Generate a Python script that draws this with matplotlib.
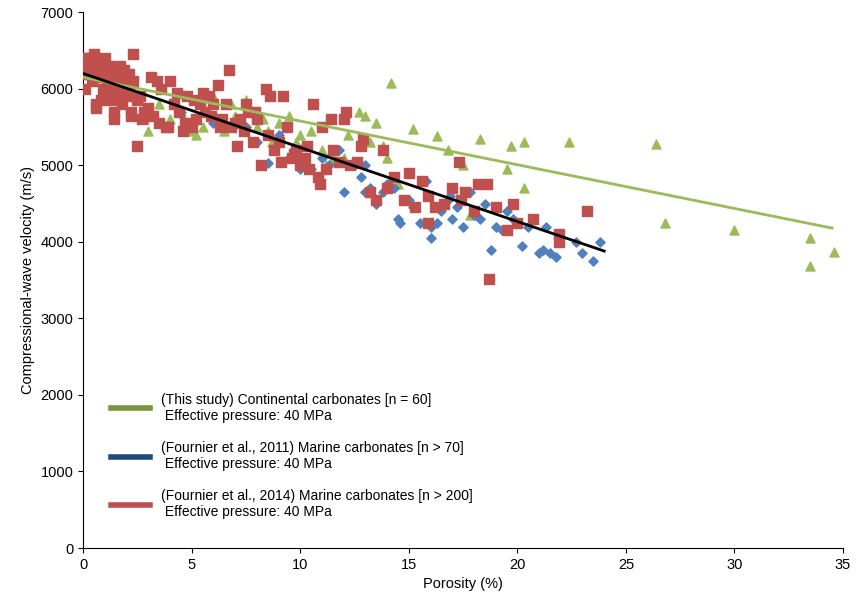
import matplotlib
matplotlib.use("Agg")
import matplotlib.pyplot as plt
from matplotlib.lines import Line2D

plt.rcParams['font.family'] = ['Liberation Sans', 'DejaVu Sans']

green_x = [0.5,1.2,2,2.8,3.5,4,4.5,5.2,5.5,6,6.5,7,7.5,7.2,8,8.3,8.7,9,9.5,9.8,10,10.5,10.3,11,11.5,12,12.2,12.7,13,13.2,13.5,13.8,14,14.2,14.5,15.2,16.3,16.8,17.5,18.3,19.5,19.7,20.3,20.3,22.4,26.4,26.8,30,33.5,33.5,34.6,5,3,1.5,6.8,8.5,11.2,12.8,15,17.8]
green_y = [6100,6300,6000,5600,5800,5600,5700,5400,5500,5900,5450,5650,5850,5550,5500,5600,5300,5550,5650,5300,5400,5450,5000,5200,5100,5100,5400,5700,5650,5300,5550,5250,5100,6080,4750,5480,5380,5200,5000,5350,4950,5250,5300,4700,5300,5280,4250,4150,4050,3680,3870,5450,5450,6200,5800,5450,5000,5250,4550,4350]

blue_x = [4.5,6,7.5,8.5,9.5,10,10.5,11,11.8,12,12.8,13,13,13.2,13.5,13.8,14,14.5,14.6,15,15.2,15.5,15.8,16,16,16.3,16.5,16.8,17,17.2,17.5,17.8,18,18.3,18.8,19,19.3,19.8,20,20.2,20.5,21,21.2,21.3,21.5,21.8,22.7,23,23.5,23.8,9,8,11.3,12.5,14.3,16.9,18.5,19.5]
blue_y = [5700,5550,5500,5030,5100,4950,4950,5100,5200,4650,4850,5000,4650,4700,4500,4650,4750,4300,4250,4550,4450,4250,4800,4050,4200,4250,4400,4550,4300,4450,4200,4650,4350,4300,3900,4200,4150,4300,4250,3950,4200,3850,3900,4200,3850,3800,4000,3850,3750,4000,5400,5300,5000,5000,4700,4600,4500,4400]

red_x = [0,0.1,0.2,0.3,0.4,0.5,0.6,0.7,0.8,0.9,1.0,1.1,1.2,1.3,1.4,1.5,1.6,1.7,1.8,1.9,2.0,2.1,2.2,2.3,2.4,2.5,
         0.1,0.3,0.5,0.7,0.9,1.1,1.3,1.5,1.7,1.9,2.1,2.3,0.2,0.6,1.0,1.4,1.8,2.2,0.4,0.8,1.2,1.6,
         2.6,2.8,3.0,3.2,3.4,3.6,3.8,4.0,4.2,4.4,4.6,4.8,5.0,5.2,5.4,5.6,5.8,6.0,6.2,6.4,6.6,6.8,7.0,7.2,7.4,7.6,7.8,8.0,
         3.1,3.5,3.9,4.3,4.7,5.1,5.5,5.9,6.3,6.7,7.1,7.5,7.9,2.5,2.7,
         8.2,8.4,8.6,8.8,9.0,9.2,9.4,9.6,9.8,10.0,10.2,10.4,10.6,10.8,11.0,11.2,11.5,11.8,12.0,12.3,12.6,12.9,13.2,13.5,13.8,14.0,
         8.5,9.1,9.7,10.3,10.9,11.4,12.1,12.8,
         14.3,14.8,15.0,15.3,15.6,15.9,16.2,16.6,17.0,17.3,17.6,18.0,18.2,18.6,19.0,19.5,19.8,20.0,20.7,21.9,21.9,23.2,18.7,15.9,17.4]
red_y = [6300,6000,6400,6200,6100,6450,5800,6300,6200,6000,6400,6100,6300,5900,5600,6200,6000,6300,5800,6100,5900,6200,5700,6450,5900,5250,
         6400,6300,6250,6350,6150,6200,5850,6100,6050,6250,6000,6100,6200,5750,6300,5700,6150,5650,6400,5850,6050,5950,
         5900,5700,5750,5650,6100,6000,5500,6100,5800,5700,5450,5900,5500,5600,5800,5700,5900,5800,6050,5600,5800,5500,5550,5600,5450,5700,5300,5600,
         6150,5550,5500,5950,5550,5850,5950,5650,5500,6250,5250,5800,5700,5850,5600,
         5000,6000,5900,5200,5300,5900,5500,5100,5200,5000,5100,4950,5800,4850,5500,4950,5200,5050,5600,5000,5050,5350,4650,4550,5200,4700,
         5400,5050,5150,5250,4750,5600,5700,5250,
         4850,4550,4900,4450,4800,4600,4450,4500,4700,5050,4650,4400,4750,4750,4450,4150,4500,4250,4300,4100,4000,4400,3520,4250,4550]

green_fit_x = [0, 34.5]
green_fit_y = [6150, 4180]
black_fit_x = [0, 24]
black_fit_y = [6200, 3880]

fig = plt.figure(figsize=(8.58, 6.06), dpi=100)
ax = fig.add_axes([0.097, 0.0957, 0.8855, 0.884])

ax.scatter(green_x, green_y, marker='^', s=42, color='#9BBB59', zorder=2)
ax.scatter(blue_x, blue_y, marker='D', s=22, color='#4F81BD', zorder=3)
ax.scatter(red_x, red_y, marker='s', s=60, color='#C0504D', zorder=4)
ax.plot(green_fit_x, green_fit_y, color='#9BBB59', lw=2, zorder=5)
ax.plot(black_fit_x, black_fit_y, color='black', lw=2, zorder=5)

ax.set_xlim(0, 35)
ax.set_ylim(0, 7000)
ax.set_xticks(range(0, 36, 5))
ax.set_yticks(range(0, 7001, 1000))
ax.spines['top'].set_visible(False)
ax.spines['right'].set_visible(False)
ax.tick_params(direction='out', labelsize=10.5)
ax.set_xlabel('Porosity (%)', fontsize=10.5)
ax.set_ylabel('Compressional-wave velocity (m/s)', fontsize=10.5)

handles = [Line2D([], [], color='#77933C', lw=4),
           Line2D([], [], color='#1F497D', lw=4),
           Line2D([], [], color='#C0504D', lw=4)]
labels = ['(This study) Continental carbonates [n = 60]\n Effective pressure: 40 MPa',
          '(Fournier et al., 2011) Marine carbonates [n > 70]\n Effective pressure: 40 MPa',
          '(Fournier et al., 2014) Marine carbonates [n > 200]\n Effective pressure: 40 MPa']
leg = ax.legend(handles, labels, loc='lower left', bbox_to_anchor=(0.02, 0.03),
                frameon=False, fontsize=10, handlelength=2.8, labelspacing=1.3)
for t in leg.get_texts():
    t.set_verticalalignment('baseline')

fig.savefig('out.png')
